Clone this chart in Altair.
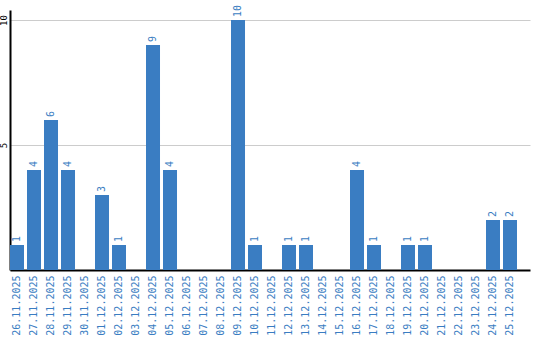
import altair as alt
import pandas as pd

dates = ["26.11.2025","27.11.2025","28.11.2025","29.11.2025","30.11.2025",
         "01.12.2025","02.12.2025","03.12.2025","04.12.2025","05.12.2025",
         "06.12.2025","07.12.2025","08.12.2025","09.12.2025","10.12.2025",
         "11.12.2025","12.12.2025","13.12.2025","14.12.2025","15.12.2025",
         "16.12.2025","17.12.2025","18.12.2025","19.12.2025","20.12.2025",
         "21.12.2025","22.12.2025","23.12.2025","24.12.2025","25.12.2025"]
values = [1,4,6,4,0, 3,1,0,9,4, 0,0,0,10,1, 0,1,1,0,0, 4,1,0,1,1, 0,0,0,2,2]

df = pd.DataFrame({"date": dates, "value": values})
BLUE = "#3a7dc2"
FONT = "DejaVu Sans Mono"

xs = alt.X("date:N", sort=dates, title=None,
           scale=alt.Scale(paddingInner=0.176, paddingOuter=0.382, align=0),
           axis=alt.Axis(labelAngle=-90, labelColor=BLUE, labelFont=FONT, labelFontSize=10,
                         ticks=False, labelPadding=5, domainColor="black", domainWidth=2,
                         labelOverlap=False))
ys = alt.Y("value:Q", title=None, scale=alt.Scale(domain=[0, 10.4], nice=False),
           axis=alt.Axis(values=[5, 10], labelAngle=-90, labelAlign="center", labelBaseline="bottom",
                         labelFont=FONT, labelFontSize=9, labelColor="black", ticks=False,
                         labelPadding=2, domainColor="black", domainWidth=2,
                         gridColor="#cccccc", gridWidth=1))

bars = alt.Chart(df).mark_bar(color=BLUE).encode(x=xs, y=ys)
labels = alt.Chart(df).transform_filter("datum.value > 0").mark_text(
    angle=270, align="left", baseline="middle", dx=3, color=BLUE, font=FONT, fontSize=10
).encode(x=alt.X("date:N", sort=dates), y=alt.Y("value:Q"), text="value:Q")

chart = (bars + labels).properties(
    width=520, height=260, padding={"left": 10, "top": 10, "right": 10, "bottom": 70},
    autosize=alt.AutoSizeParams(type="none")
).configure_view(stroke=None).configure_axisX(grid=False)

chart.save("out.html", embed_options={"renderer": "svg", "actions": False})
